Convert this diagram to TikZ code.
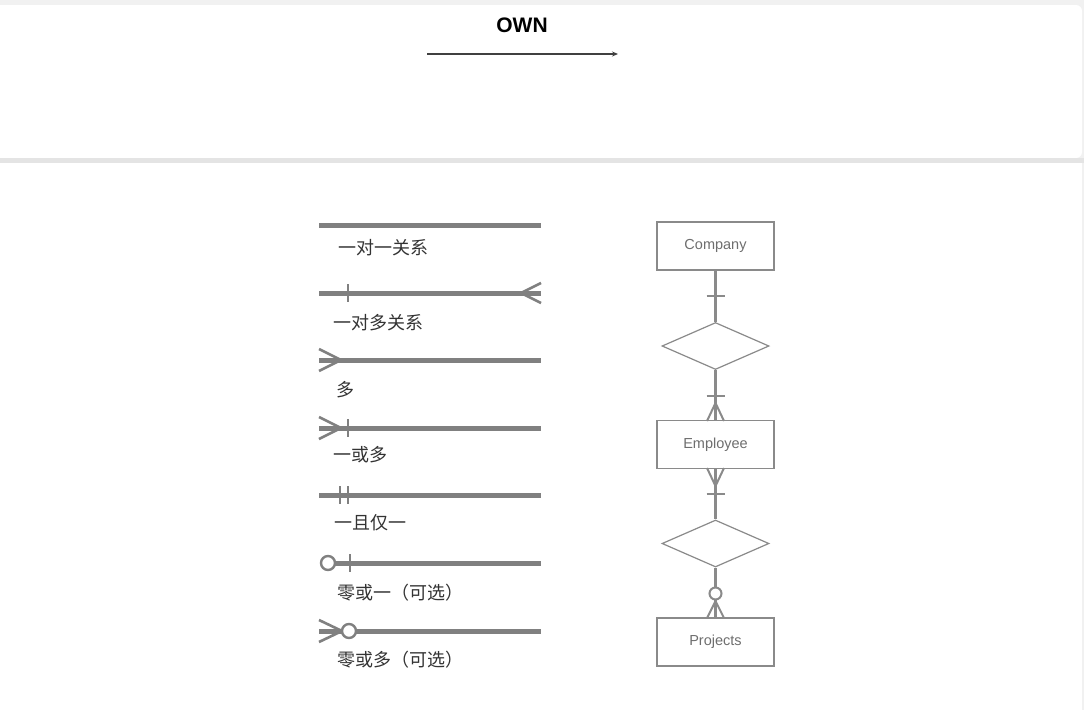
\documentclass[tikz,border=0pt]{standalone}
\usepackage{fontspec}
\setmainfont{Liberation Sans}
\newfontfamily\cjk{Noto Sans CJK SC}
\usetikzlibrary{shapes.geometric,arrows.meta}
\definecolor{lg}{HTML}{808080}
\definecolor{eg}{HTML}{8A8A8A}
\definecolor{bg}{HTML}{F1F1F1}
\definecolor{band}{HTML}{E4E4E4}
\definecolor{txt}{HTML}{333333}
\definecolor{ertxt}{HTML}{6E6E6E}
\begin{document}
\begin{tikzpicture}[x=1pt,y=-1pt,
  leg/.style={draw=lg,line width=5pt},
  legmark/.style={draw=lg,line width=2.6pt},
  legcirc/.style={draw=lg,line width=2.4pt,fill=white},
  lbl/.style={font=\cjk\fontsize{18}{18}\selectfont,text=txt,anchor=west,inner sep=0pt},
  ent/.style={draw=eg,line width=1.2pt,minimum width=117pt,minimum height=48pt,inner sep=0pt,font=\fontsize{14.5}{14.5}\selectfont,text=ertxt},
  rel/.style={draw=eg,line width=1.2pt,shape=diamond,minimum width=107pt,minimum height=47pt,inner sep=0pt},
  erl/.style={draw=eg,line width=3pt},
  ermark/.style={draw=eg,line width=2pt}
]
\useasboundingbox (0,0) rectangle (1084,710);
% background
\fill[bg] (0,0) rectangle (1084,710);
\fill[white,rounded corners=6pt] (-10,5) rectangle (1082,158);
\fill[band] (0,158) rectangle (1084,163);
\fill[white] (0,163) rectangle (1082,710);

% header
\node[font=\bfseries\fontsize{21}{21}\selectfont,inner sep=0pt] (own) at (522,25) {OWN};
\coordinate (a0) at (427,54);
\coordinate (a1) at (618,54);
\draw[draw=black!75,line width=1.4pt,-{Stealth[length=6pt,width=5pt]}] (a0) -- (a1);

% legend 1: one-to-one
\coordinate (l1a) at (319,225); \coordinate (l1b) at (541,225);
\draw[leg] (l1a) -- (l1b);
\node[lbl] (t1) at (338,248) {一对一关系};

% legend 2: one-to-many
\coordinate (l2a) at (319,293); \coordinate (l2b) at (541,293);
\draw[leg] (l2a) -- (l2b);
\draw[legmark] (348,284) -- (348,302);
\draw[legmark] (541,283) -- (521,293) -- (541,303);
\node[lbl] (t2) at (333,323) {一对多关系};

% legend 3: many
\coordinate (l3a) at (319,360); \coordinate (l3b) at (541,360);
\draw[leg] (l3a) -- (l3b);
\draw[legmark] (319,349) -- (341,360) -- (319,371);
\node[lbl] (t3) at (336,390) {多};

% legend 4: one or many
\coordinate (l4a) at (319,428); \coordinate (l4b) at (541,428);
\draw[leg] (l4a) -- (l4b);
\draw[legmark] (319,417) -- (341,428) -- (319,439);
\draw[legmark] (348,419) -- (348,437);
\node[lbl] (t4) at (333,455) {一或多};

% legend 5: one and only one
\coordinate (l5a) at (319,495); \coordinate (l5b) at (541,495);
\draw[leg] (l5a) -- (l5b);
\draw[legmark] (340,486) -- (340,504);
\draw[legmark] (348,486) -- (348,504);
\node[lbl] (t5) at (334,523) {一且仅一};

% legend 6: zero or one
\coordinate (l6a) at (335,563); \coordinate (l6b) at (541,563);
\draw[leg] (l6a) -- (l6b);
\draw[legmark] (350,554) -- (350,572);
\draw[legcirc] (328,563) circle (7pt);
\node[lbl] (t6) at (337,593) {零或一（可选）};

% legend 7: zero or many
\coordinate (l7a) at (319,631); \coordinate (l7b) at (541,631);
\draw[leg] (l7a) -- (l7b);
\draw[legmark] (319,620) -- (342,631) -- (319,642);
\draw[legcirc] (349,631) circle (7pt);
\node[lbl] (t7) at (337,660) {零或多（可选）};

% ER diagram
\node[ent] (company) at (715.5,246) {Company};
\node[rel] (r1) at (715.5,346) {};
\node[ent] (employee) at (715.5,444.5) {Employee};
\node[rel] (r2) at (715.5,543.5) {};
\node[ent] (projects) at (715.5,642) {Projects};

\draw[erl] (company.south) -- (r1.north);
\draw[ermark] (706.5,296) -- (724.5,296);

\draw[erl] (r1.south) -- (employee.north);
\draw[ermark] (706.5,396) -- (724.5,396);
\draw[ermark] (707,421) -- (715.5,403) -- (724,421);

\draw[erl] (employee.south) -- (r2.north);
\draw[ermark] (707,468) -- (715.5,486) -- (724,468);
\draw[ermark] (706.5,494) -- (724.5,494);

\draw[erl] (r2.south) -- (projects.north);
\draw[ermark] (707,618) -- (715.5,601) -- (724,618);
\draw[ermark,fill=white] (715.5,593.5) circle (6pt);
\end{tikzpicture}
\end{document}
